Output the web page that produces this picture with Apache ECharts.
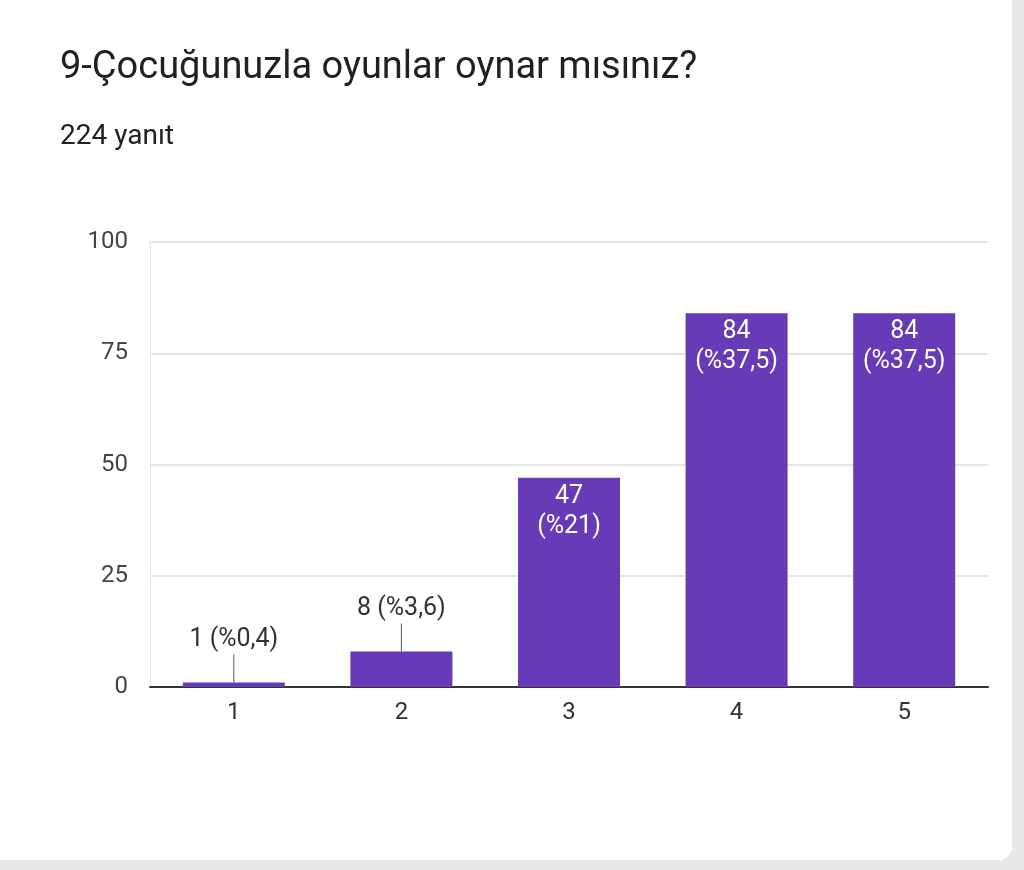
<!DOCTYPE html>
<html><head><meta charset="utf-8">
<script src="https://cdn.jsdelivr.net/npm/echarts@6/dist/echarts.min.js"></script>
<style>html,body{margin:0;padding:0;background:#e8e8e8}#c{width:1012px;height:860px;background:#fff;border-bottom-right-radius:14px;overflow:hidden}</style>
</head><body><div id="c"></div>
<script>
const categories = ['1','2','3','4','5'];
const counts = [1, 8, 47, 84, 84];
const percents = ['0,4','3,6','21','37,5','37,5'];
const yTicks = [0, 25, 50, 75, 100];

const chart = echarts.init(document.getElementById('c'));
const data = counts.map((v, i) => {
  const small = v < 20;
  return {
    value: v,
    label: small ? {
      show: true, position: 'top', distance: 0,
      formatter: '{t|' + v + ' (%' + percents[i] + ')}\n{l|}',
      rich: {
        t: {fontSize: 25, color: '#333', fontFamily: 'Roboto', lineHeight: 30, align: 'center'},
        l: {width: 1, height: 28, backgroundColor: '#555', align: 'center'}
      }
    } : {
      show: true, position: 'insideTop', distance: 4,
      formatter: v + '\n(%' + percents[i] + ')',
      color: '#fff', fontSize: 25, lineHeight: 30, fontFamily: 'Roboto'
    }
  };
});
chart.setOption({
  backgroundColor: '#fff',
  animation: false,
  title: [
    {text: '9-Çocuğunuzla oyunlar oynar mısınız?', left: 55, top: 44,
     textStyle: {fontSize: 38, fontWeight: 'normal', color: '#202124', fontFamily: 'Roboto'}},
    {text: '224 yanıt', left: 55, top: 118,
     textStyle: {fontSize: 28, fontWeight: 'normal', color: '#202124', fontFamily: 'Roboto'}}
  ],
  grid: {left: 150, right: 24, top: 242, bottom: 173},
  xAxis: {
    type: 'category', data: categories,
    axisLine: {lineStyle: {color: '#333', width: 2}},
    axisTick: {show: false},
    axisLabel: {fontSize: 24, color: '#333', margin: 14, fontFamily: 'Roboto'}
  },
  yAxis: {
    type: 'value', min: 0, max: 100, interval: 25,
    axisLine: {show: true, lineStyle: {color: '#e6e6e6'}},
    splitLine: {lineStyle: {color: '#e6e6e6', width: 2}},
    axisLabel: {fontSize: 24, color: '#444', margin: 22, fontFamily: 'Roboto',
      formatter: v => yTicks.includes(v) ? String(v) : ''}
  },
  series: [{
    type: 'bar', data: data, barWidth: 102,
    itemStyle: {color: '#673ab7'}
  }]
});
</script></body></html>
